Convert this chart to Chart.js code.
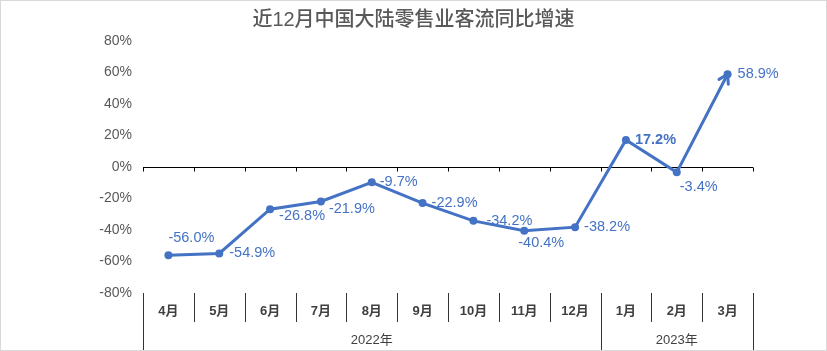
<!DOCTYPE html>
<html>
<head>
<meta charset="utf-8">
<script src="https://cdn.jsdelivr.net/npm/chart.js@4.4.0/dist/chart.umd.min.js"></script>
<style>
  html, body { margin: 0; padding: 0; background: #fff; }
  canvas { display: block; }
</style>
</head>
<body>
<canvas id="myChart" width="827" height="351"></canvas>
<script>
// data
const title = '近12月中国大陆零售业客流同比增速';
const months = ['4月', '5月', '6月', '7月', '8月', '9月', '10月', '11月', '12月', '1月', '2月', '3月'];
const years = ['2022年', '2023年'];
const yearSpans = [9, 3];
const growth = [-56.0, -54.9, -26.8, -21.9, -9.7, -22.9, -34.2, -40.4, -38.2, 17.2, -3.4, 58.9];
const boldLabels = [false, false, false, false, false, false, false, false, false, true, false, false];

// where each value label sits relative to its point (dx, dy), left aligned
const labelOffsets = [[0, -17], [10, 0], [9, 7], [8, 8], [8, 0], [9, 0], [13, 0], [-6, 12], [9, 0], [9, 0], [3, 15], [10, 0]];

const FONT = '"Liberation Sans", "Noto Sans CJK SC", sans-serif';
const BLUE = '#4472C4';
const GREY = '#595959';

const extras = {
  id: 'extras',
  beforeDatasetsDraw(chart) {
    const ctx = chart.ctx;
    const x = chart.scales.x, y = chart.scales.y;
    const area = chart.chartArea;
    const y0 = Math.round(y.getPixelForValue(0)) + 0.5;
    ctx.save();
    ctx.strokeStyle = '#000';
    ctx.lineWidth = 1;
    ctx.beginPath();
    ctx.moveTo(area.left, y0);
    ctx.lineTo(area.right, y0);
    for (let i = 0; i <= months.length; i++) {
      const px = Math.round(x.getPixelForValue(i - 0.5)) + 0.5;
      ctx.moveTo(px, y0);
      ctx.lineTo(px, y0 + 4);
    }
    ctx.stroke();
    ctx.restore();
  },
  afterDatasetsDraw(chart) {
    const ctx = chart.ctx;
    const pts = chart.getDatasetMeta(0).data;
    ctx.save();
    // arrow head on the last point
    const a = pts[pts.length - 2], b = pts[pts.length - 1];
    const ang = Math.atan2(b.y - a.y, b.x - a.x);
    ctx.strokeStyle = BLUE;
    ctx.lineWidth = 3;
    ctx.lineCap = 'round';
    ctx.lineJoin = 'round';
    ctx.beginPath();
    ctx.moveTo(b.x - 10 * Math.cos(ang - 0.55), b.y - 10 * Math.sin(ang - 0.55));
    ctx.lineTo(b.x, b.y);
    ctx.lineTo(b.x - 10 * Math.cos(ang + 0.55), b.y - 10 * Math.sin(ang + 0.55));
    ctx.stroke();

    // value labels
    ctx.fillStyle = BLUE;
    ctx.textAlign = 'left';
    ctx.textBaseline = 'middle';
    pts.forEach((p, i) => {
      ctx.font = (boldLabels[i] ? 'bold ' : '') + '14.5px ' + FONT;
      ctx.fillText(growth[i].toFixed(1) + '%', p.x + labelOffsets[i][0], p.y + labelOffsets[i][1]);
    });
    ctx.restore();
  },
  afterDraw(chart) {
    const ctx = chart.ctx;
    const x = chart.scales.x;
    const top = chart.chartArea.bottom;
    ctx.save();

    // title, centred on the whole canvas
    ctx.fillStyle = GREY;
    ctx.textAlign = 'center';
    ctx.textBaseline = 'middle';
    ctx.font = '500 20px ' + FONT;
    ctx.fillText(title, chart.width / 2, 20);

    ctx.strokeStyle = '#333';
    ctx.lineWidth = 1;
    // boundaries of year groups
    const yearEdges = [0];
    yearSpans.forEach(s => yearEdges.push(yearEdges[yearEdges.length - 1] + s));
    ctx.beginPath();
    for (let i = 0; i <= months.length; i++) {
      const px = Math.round(x.getPixelForValue(i - 0.5)) + 0.5;
      ctx.moveTo(px, top);
      ctx.lineTo(px, yearEdges.includes(i) ? 351 : top + 29);
    }
    ctx.stroke();

    ctx.fillStyle = '#404040';
    ctx.font = 'bold 13px ' + FONT;
    months.forEach((m, i) => ctx.fillText(m, x.getPixelForValue(i), top + 18));
    ctx.font = '13px ' + FONT;
    years.forEach((yr, k) => {
      const l = x.getPixelForValue(yearEdges[k] - 0.5);
      const r = x.getPixelForValue(yearEdges[k + 1] - 0.5);
      ctx.fillText(yr, (l + r) / 2, top + 47);
    });

    // outer frame
    ctx.strokeStyle = '#d9d9d9';
    ctx.strokeRect(0.5, 0.5, chart.width - 1, chart.height - 1);
    ctx.restore();
  }
};

new Chart(document.getElementById('myChart'), {
  type: 'line',
  data: {
    labels: months,
    datasets: [{
      data: growth,
      borderColor: BLUE,
      backgroundColor: BLUE,
      borderWidth: 3,
      pointRadius: 4,
      pointBorderWidth: 0,
      pointHoverRadius: 4,
      tension: 0
    }]
  },
  options: {
    responsive: false,
    animation: false,
    devicePixelRatio: 1,
    layout: { padding: { left: 0, right: 74, bottom: 58, top: 41 } },
    plugins: {
      legend: { display: false },
      tooltip: { enabled: false },
      title: { display: false }
    },
    scales: {
      x: { display: false, offset: true },
      y: {
        min: -80,
        max: 80,
        afterFit(scale) { scale.width = 143; },
        grid: { display: false, drawTicks: false },
        border: { display: false },
        ticks: {
          stepSize: 20,
          padding: 11,
          color: GREY,
          font: { size: 14, family: FONT },
          callback: v => v + '%'
        }
      }
    }
  },
  plugins: [extras]
});
</script>
</body>
</html>
